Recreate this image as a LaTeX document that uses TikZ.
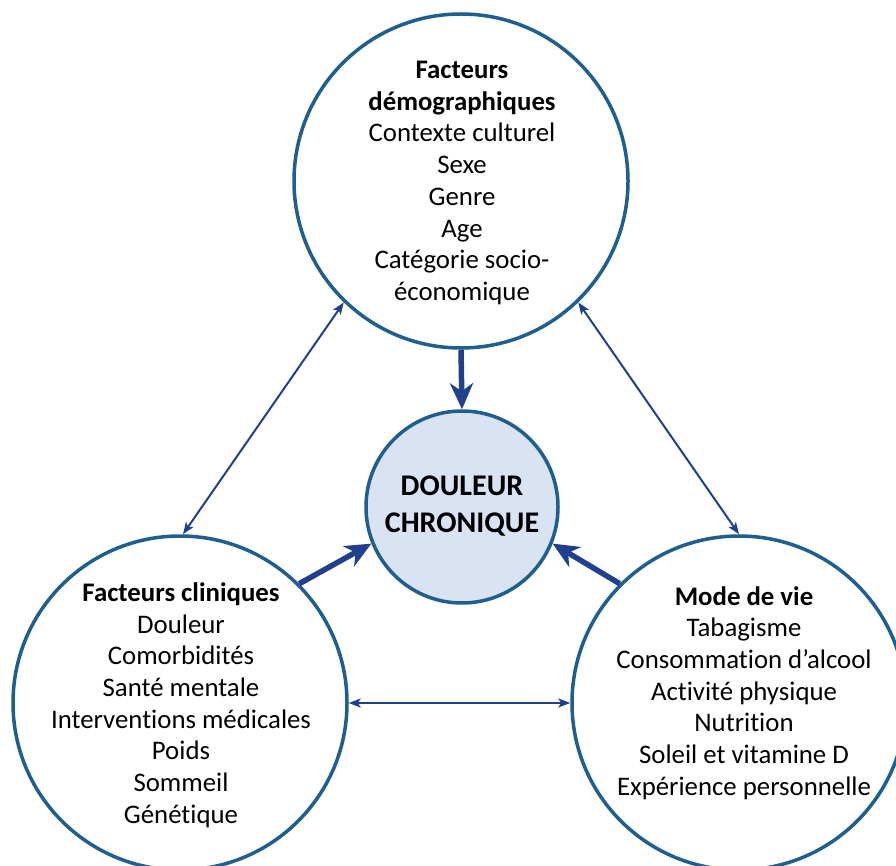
\documentclass[tikz,border=0pt]{standalone}
\usepackage{fontspec}
\setmainfont{Carlito}[RawFeature={-liga;-clig;-calt;-dlig}]
\usetikzlibrary{arrows.meta}
\definecolor{ringc}{HTML}{1F5F8F}
\definecolor{arrowc}{HTML}{203F8C}
\definecolor{corefill}{HTML}{DAE3F3}
\tikzset{
  ring/.style={circle, draw=ringc, line width=3.5pt, minimum size=334pt, inner sep=0pt},
  corering/.style={circle, draw=ringc, fill=corefill, line width=3.5pt, minimum size=192pt, inner sep=0pt},
  txt/.style={align=center, inner sep=0pt, font=\fontsize{26.8}{31.7}\selectfont},
  coretxt/.style={align=center, inner sep=0pt, font=\fontsize{30}{37}\selectfont\bfseries},
  bigarrow/.style={draw=arrowc, line width=5.5pt, -{Stealth[length=26pt,width=23pt,inset=8pt]}},
  thinarrow/.style={draw=arrowc, line width=2pt, {Stealth[length=12pt,width=9pt,inset=3pt]}-{Stealth[length=12pt,width=9pt,inset=3pt]}}
}
\begin{document}
\begin{tikzpicture}[x=1pt,y=-1pt]
\useasboundingbox (0,0) rectangle (896,866);
\clip (0,0) rectangle (896,866);
\fill[white] (0,0) rectangle (896,866);

\node[ring] (top) at (461,181) {};
\node[ring] (left) at (180,703) {};
\node[ring] (right) at (739,703) {};
\node[corering] (core) at (462,507) {};

\node[txt] (toptext) at (462,183) {\textbf{Facteurs}\\\textbf{démographiques}\\Contexte culturel\\Sexe\\Genre\\Age\\Catégorie socio-\\économique};
\node[txt] (lefttext) at (181,705) {\textbf{Facteurs cliniques}\\Douleur\\Comorbidités\\Santé mentale\\Interventions médicales\\Poids\\Sommeil\\Génétique};
\node[txt] (righttext) at (744,693) {\textbf{Mode de vie}\\Tabagisme\\Consommation d’alcool\\Activité physique\\Nutrition\\Soleil et vitamine D\\Expérience personnelle};
\node[coretxt] (coretext) at (462,506) {DOULEUR\\CHRONIQUE};

\draw[bigarrow] (top.south) -- (core.north);
\draw[bigarrow] (left.45) -- (core.202);
\draw[bigarrow] (right.135) -- (core.338);

\draw[thinarrow] (top.226) -- (left.89);
\draw[thinarrow] (top.314) -- (right.90);
\draw[thinarrow] (left.east) -- (right.west);
\end{tikzpicture}
\end{document}
